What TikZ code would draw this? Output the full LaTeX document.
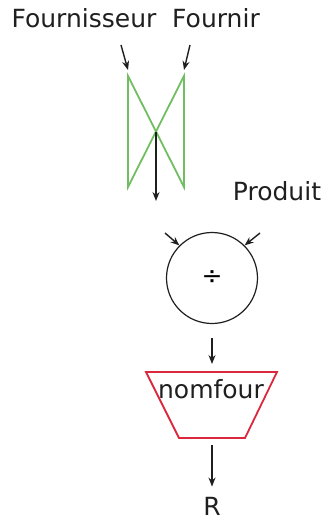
\documentclass[tikz,border=0pt]{standalone}
\usepackage{fontspec}
\setmainfont{DejaVu Sans}
\usepackage{xcolor}
\usepackage{tikz}
\usetikzlibrary{positioning,arrows.meta,calc}
\definecolor{ink}{gray}{0.12}
\definecolor{joingreen}{RGB}{112,190,96}
\definecolor{projred}{RGB}{220,40,60}
\tikzset{
  lbl/.style={font=\fontsize{25}{29}\selectfont, color=ink, inner sep=0pt, anchor=base},
  flow/.style={-{Stealth[length=9pt,width=7pt]}, draw=ink, line width=1.4pt},
  joinline/.style={draw=joingreen, line width=1.8pt},
  projline/.style={draw=projred, line width=1.8pt, line join=miter},
  divop/.style={circle, draw=ink, line width=1.2pt, minimum size=91pt, inner sep=0pt,
                font=\fontsize{25}{29}\selectfont},
}

\begin{document}
\begin{tikzpicture}[x=1pt, y=-1pt]
        \useasboundingbox (0,0) rectangle (323,520);
        % relations
        \node[lbl] (fsr) at (84,27) {Fournisseur};
        \node[lbl] (fnr) at (216,27) {Fournir};
        \node[lbl] (prd) at (277,200) {Produit};
        % jointure
        \coordinate (jtl) at (128,76);
        \coordinate (jtr) at (184,76);
        \coordinate (jbl) at (128,187);
        \coordinate (jbr) at (184,187);
        \coordinate (jx) at ($(jtl)!0.5!(jbr)$);
        \draw[joinline] (jtl) -- (jbl) -- (jtr) -- (jbr) -- cycle;
        \coordinate (fsrout) at (121,45);
        \coordinate (fnrout) at (190,45);
        \draw[flow] (fsrout) -- ($(jtl)+(0,-6)$);
        \draw[flow] (fnrout) -- ($(jtr)+(0,-6)$);
        \coordinate (jout) at (156,201);
        \draw[flow] (jx) -- (jout);
        % division
        \node[divop] (div) at (212,278) {÷};
        \coordinate (divinl) at (165,233);
        \coordinate (divinr) at (260,233);
        \draw[flow] (divinl) -- (div.135);
        \draw[flow] (divinr) -- (div.45);
        % projection
        \coordinate (ptl) at (146,372);
        \coordinate (ptr) at (277,372);
        \coordinate (pbr) at (245,438);
        \coordinate (pbl) at (179,438);
        \draw[projline] (ptl) -- (ptr) -- (pbr) -- (pbl) -- cycle;
        \node[lbl] (proj) at (211,398) {nomfour};
        \coordinate (ptop) at (212,364);
        \draw[flow] ($(div.south)+(0,14)$) -- (ptop);
        \coordinate (pbot) at (212,445);
        \node[lbl] (res) at (212,515) {R};
        \draw[flow] (pbot) -- ($(res.north)+(0,-10)$);
      \end{tikzpicture}
\end{document}
